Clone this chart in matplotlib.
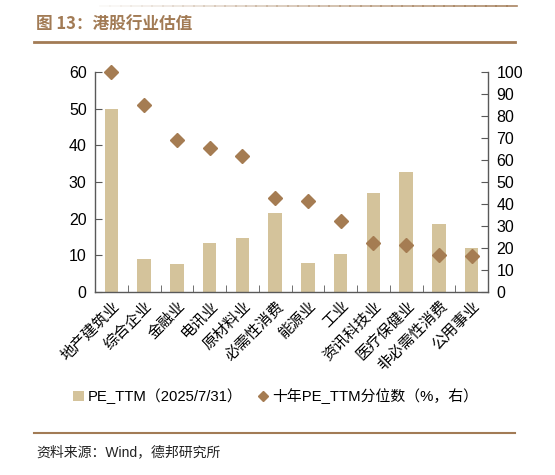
import numpy as np
import matplotlib
matplotlib.use("Agg")
import matplotlib.pyplot as plt
from matplotlib.lines import Line2D
from matplotlib.patches import Patch

plt.rcParams['font.family'] = ['Liberation Sans', 'Noto Sans CJK SC', 'DejaVu Sans']

industries = ['地产建筑业', '综合企业', '金融业', '电讯业', '原材料业', '必需性消费',
              '能源业', '工业', '资讯科技业', '医疗保健业', '非必需性消费', '公用事业']
pe_ttm = [49.9, 9.0, 7.6, 13.5, 14.8, 21.6, 8.0, 10.4, 27.1, 32.7, 18.5, 11.9]
pct_10y = [100.0, 85.0, 69.1, 65.6, 62.0, 42.9, 41.2, 32.3, 22.3, 21.5, 16.8, 16.4]

BAR_C = '#D4C39B'
DOT_C = '#A57C52'
BROWN = '#A27B55'
AXIS_C = '#595959'

fig = plt.figure(figsize=(5.55, 4.75), dpi=100)
W, H = 555, 475

def fx(px):
    return px / W

def fy(py):
    return 1 - py / H

ax = fig.add_axes([fx(95), fy(292), fx(488) - fx(95), fy(72) - fy(292)])
x = np.arange(len(industries))
ax.bar(x, pe_ttm, width=0.41, color=BAR_C, zorder=2)
ax.set_xlim(-0.5, len(industries) - 0.5)
ax.set_ylim(0, 60)
ax.set_yticks(range(0, 61, 10))

ax2 = ax.twinx()
ax2.plot(x, pct_10y, linestyle='none', marker='D', markersize=7.5, color=DOT_C,
         zorder=3, clip_on=False)
ax2.set_ylim(0, 100)
ax2.set_yticks(range(0, 101, 10))

for a in (ax, ax2):
    a.spines['top'].set_visible(False)
    for s in ('left', 'right', 'bottom'):
        a.spines[s].set_color(AXIS_C)
        a.spines[s].set_linewidth(1.0)
    a.tick_params(axis='y', direction='in', length=5, color=AXIS_C, labelsize=11.5, pad=6)
ax.spines['right'].set_visible(False)
ax2.spines['left'].set_visible(False)
ax2.spines['bottom'].set_visible(False)

ax.set_xticks(x)
ax.set_xticklabels(industries, rotation=45, ha='right', rotation_mode='anchor',
                   fontsize=11, family=['Noto Sans CJK SC'])
ax.tick_params(axis='x', which='major', length=0, pad=4)
ax.set_xticks(np.arange(0.5, len(industries) - 1, 1.0), minor=True)
ax.tick_params(axis='x', which='minor', direction='in', length=5, color=AXIS_C)

handles = [Patch(facecolor=BAR_C, edgecolor='none'),
           Line2D([], [], linestyle='none', marker='D', markersize=5, color=DOT_C)]
labels = ['PE_TTM（2025/7/31）', '十年PE_TTM分位数（%，右）']
fig.legend(handles, labels, loc='center', bbox_to_anchor=(fx(276), fy(396)), ncol=2,
           frameon=False, fontsize=10.7, handlelength=0.7, handleheight=0.7,
           handletextpad=0.3, columnspacing=1.0)

# header / footer decoration
fig.text(fx(36), fy(25), '图 13：港股行业估值', fontsize=12, fontweight='bold',
         color=BROWN, va='center', ha='left', family=['Noto Sans CJK SC'])
fig.add_artist(Line2D([fx(34), fx(515)], [fy(42), fy(42)], color=BROWN, linewidth=2))
fig.add_artist(Line2D([fx(34), fx(515)], [fy(433), fy(433)], color=BROWN, linewidth=1.5))
n = 40
xs = np.linspace(100, 517, n + 1)
for i in range(n):
    fig.add_artist(Line2D([fx(xs[i]), fx(xs[i + 1])], [fy(5.5), fy(5.5)],
                          color=BROWN, linewidth=1.2, alpha=0.05 + 0.9 * i / n))
fig.text(fx(36), fy(452), '资料来源：Wind，德邦研究所', fontsize=10, color='#222222',
         va='center', ha='left')

fig.savefig('out.png', dpi=100)
